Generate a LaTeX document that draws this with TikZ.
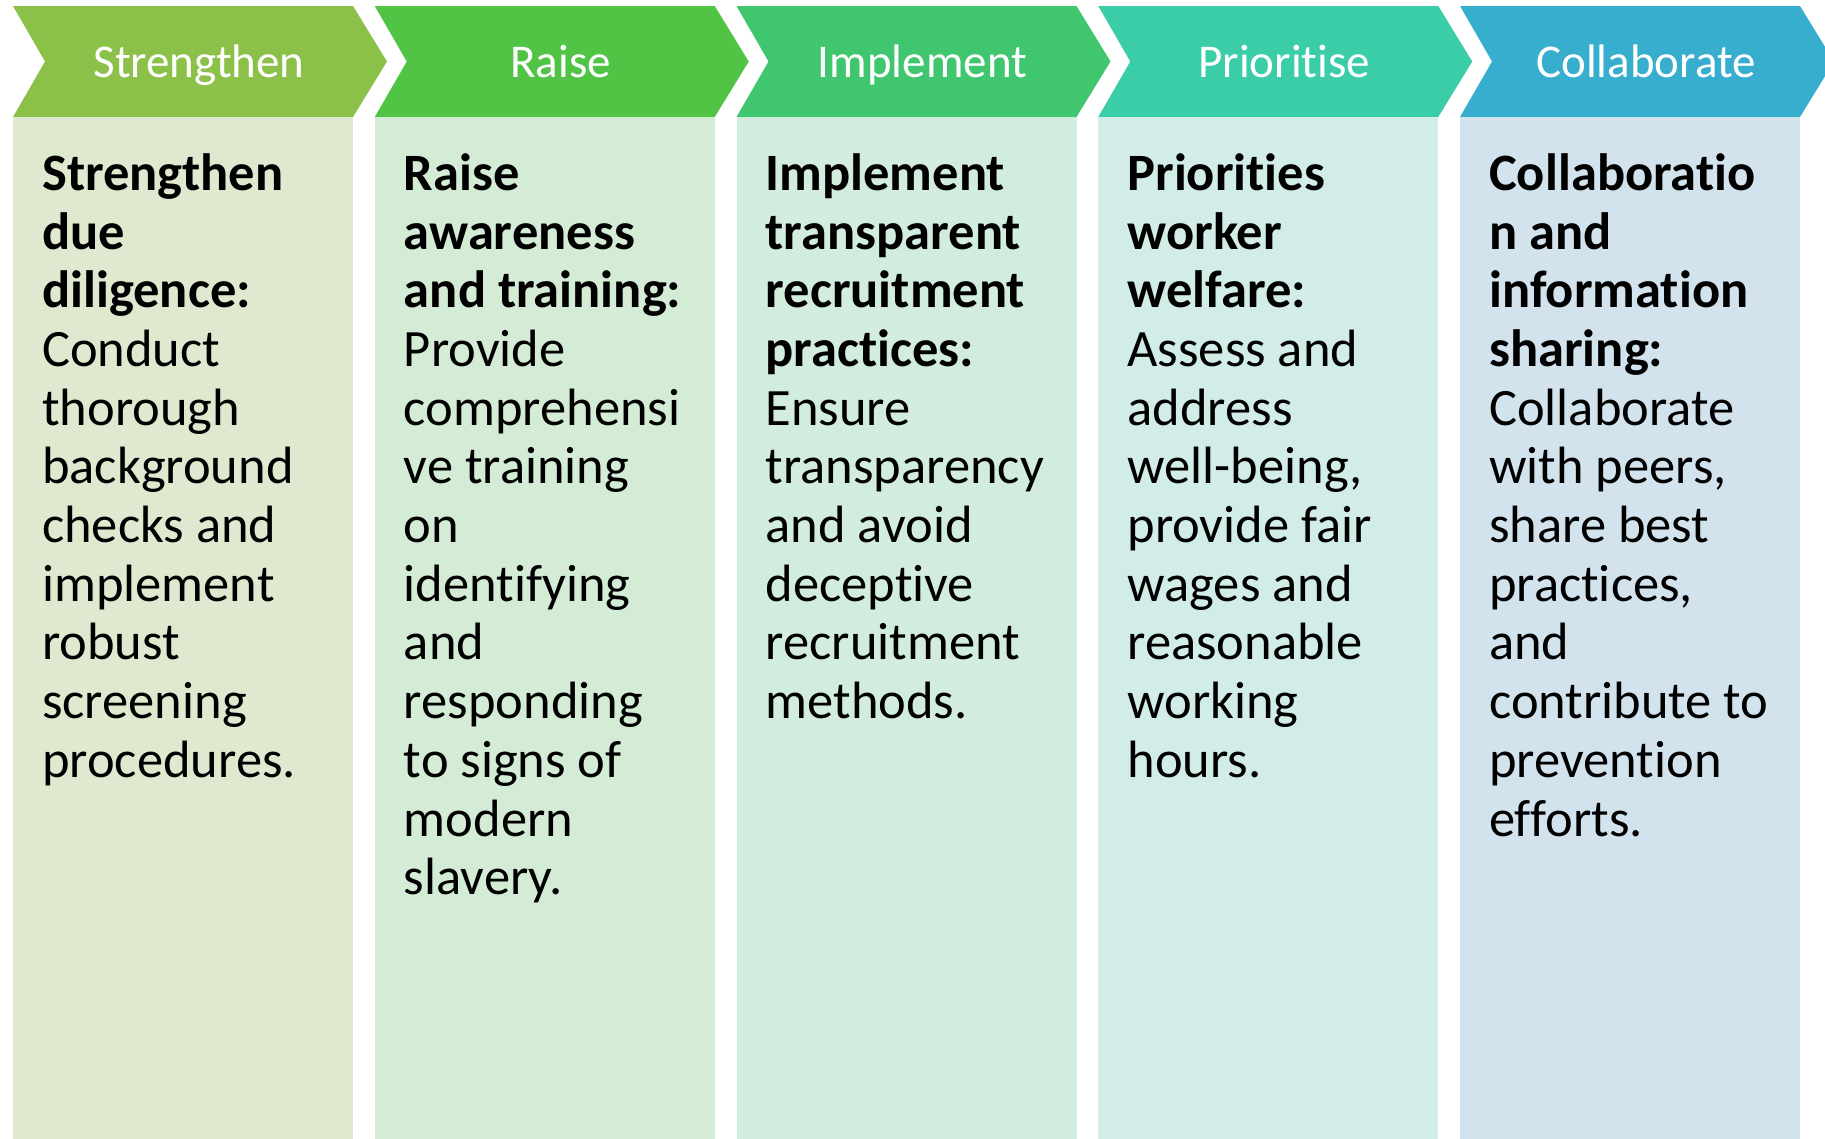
\documentclass[tikz,border=0pt]{standalone}
\usepackage{fontspec}
\setmainfont{Carlito}[Ligatures={NoCommon,NoContextual,NoRare},Contextuals={NoAlternate}]
\newcommand{\tI}{t\kern0pt i}
\newcommand{\fF}{f\kern0pt f}
\definecolor{chA}{RGB}{139,193,72}
\definecolor{chB}{RGB}{81,196,69}
\definecolor{chC}{RGB}{63,198,110}
\definecolor{chD}{RGB}{58,205,168}
\definecolor{chE}{RGB}{56,174,206}
\definecolor{bxA}{RGB}{222,233,208}
\definecolor{bxB}{RGB}{212,235,213}
\definecolor{bxC}{RGB}{210,236,222}
\definecolor{bxD}{RGB}{210,236,232}
\definecolor{bxE}{RGB}{210,227,237}
\tikzset{
  headtext/.style={text=white, inner sep=0pt, anchor=base, font=\fontsize{47}{56}\selectfont},
  bodytext/.style={text=black, inner sep=0pt, anchor=north west, align=left, font=\fontsize{52.5}{58.7}\selectfont},
}
\newcommand{\chev}[3]{%
  \fill[#2] (#1,6) -- ++(340,0) -- ++(34,55.5) -- ++(-34,55.5) -- ++(-340,0) -- ++(32,-55.5) -- cycle;
  \fill[#3] (#1,117) rectangle ++(340,1030);
}
\begin{document}
\begin{tikzpicture}[x=1pt,y=-1pt]
\useasboundingbox (0,0) rectangle (1825,1138);
\clip (0,0) rectangle (1825,1138);
\chev{13}{chA}{bxA}
\chev{374.75}{chB}{bxB}
\chev{736.5}{chC}{bxC}
\chev{1098.25}{chD}{bxD}
\chev{1460}{chE}{bxE}
\node[headtext] (h1) at (199,77) {Strengthen};
\node[headtext] (h2) at (560.75,77) {Raise};
\node[headtext] (h3) at (922.5,77) {Implement};
\node[headtext] (h4) at (1284.25,77) {Priori\tI se};
\node[headtext] (h5) at (1646,77) {Collaborate};
\node[bodytext] (b1) at (42,149) {\strut\textbf{Strengthen}\\\textbf{due}\\\textbf{diligence:}\\Conduct\\thorough\\background\\checks and\\implement\\robust\\screening\\procedures.};
\node[bodytext] (b2) at (403.75,149) {\strut\textbf{Raise}\\\textbf{awareness}\\\textbf{and training:}\\Provide\\comprehensi\\ve training\\on\\identifying\\and\\responding\\to signs of\\modern\\slavery.};
\node[bodytext] (b3) at (765.5,149) {\strut\textbf{Implement}\\\textbf{transparent}\\\textbf{recruitment}\\\textbf{prac\tI ces:}\\Ensure\\transparency\\and avoid\\deceptive\\recruitment\\methods.};
\node[bodytext] (b4) at (1127.25,149) {\strut\textbf{Priori\tI es}\\\textbf{worker}\\\textbf{welfare:}\\Assess and\\address\\well-being,\\provide fair\\wages and\\reasonable\\working\\hours.};
\node[bodytext] (b5) at (1489,149) {\strut\textbf{Collabora\tI o}\\\textbf{n and}\\\textbf{informa\tI on}\\\textbf{sharing:}\\Collaborate\\with peers,\\share best\\prac\tI ces,\\and\\contribute to\\preven\tI on\\e\fF orts.};
\end{tikzpicture}
\end{document}
